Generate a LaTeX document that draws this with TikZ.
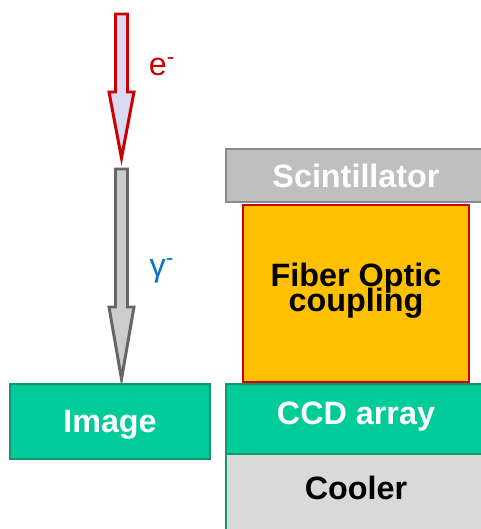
\documentclass[tikz,border=0pt]{standalone}
\usepackage{fontspec}
\setmainfont{Liberation Sans}
\definecolor{boxgreen}{HTML}{00CC99}
\definecolor{edgegreen}{HTML}{16946F}
\definecolor{scintgray}{HTML}{BFBFBF}
\definecolor{scintedge}{HTML}{898989}
\definecolor{coolgray}{HTML}{D9D9D9}
\definecolor{fiberorange}{HTML}{FFC000}
\definecolor{darkred}{HTML}{CC0000}
\definecolor{lavender}{HTML}{DADAF5}
\definecolor{arrowgray}{HTML}{CCCCCC}
\definecolor{arrowedge}{HTML}{666666}
\definecolor{gammablue}{HTML}{0B72C7}
\newcommand\tightlines{\lineskiplimit=-20pt\relax}
\tikzset{
  layer/.style={line width=1.4pt},
  lbl/.style={font=\fontsize{18.4}{20}\selectfont\bfseries,align=center},
  beam/.style={line width=1.7pt,line join=miter}
}
\begin{document}
\begin{tikzpicture}[x=0.02cm,y=0.02cm]
\clip (0,0) rectangle (481,529);
% beams
\draw[beam,draw=darkred,fill=lavender] (115.5,515)--(127.5,515)--(127.5,437)--(134,437)--(121.5,371)--(109,437)--(115.5,437)--cycle;
\draw[beam,draw=arrowedge,fill=arrowgray] (115.5,360)--(127.5,360)--(127.5,222)--(134,222)--(121.5,150)--(109,222)--(115.5,222)--cycle;
\node[text=darkred,font=\fontsize{18.4}{20}\selectfont] (elec) at (162,462) {e\textsuperscript{-}};
\node[text=gammablue,font=\fontsize{18.4}{20}\selectfont] (gam) at (162,258) {γ\textsuperscript{-}};
% detector stack
\draw[layer,draw=edgegreen,fill=boxgreen] (10,70) rectangle (210,145);
\node[lbl,text=white] (image) at (110,104) {Image};
\draw[layer,draw=edgegreen,fill=coolgray] (226,-2) rectangle (490,75);
\node[lbl,text=black] (cooler) at (356,41) {Cooler};
\draw[layer,draw=edgegreen,fill=boxgreen] (226,75) rectangle (490,145);
\node[lbl,text=white] (ccd) at (356,112) {CCD array};
\draw[layer,draw=scintedge,fill=scintgray] (226,327) rectangle (490,380);
\node[lbl,text=white] (scint) at (356,353) {Scintillator};
\draw[line width=1.7pt,draw=darkred,fill=fiberorange] (243,147) rectangle (469,324);
\node[lbl,text=black,font=\fontsize{18.4}{14.2}\selectfont\bfseries\tightlines] (fiber) at (356,238) {Fiber Optic\\coupling};
\end{tikzpicture}
\end{document}
